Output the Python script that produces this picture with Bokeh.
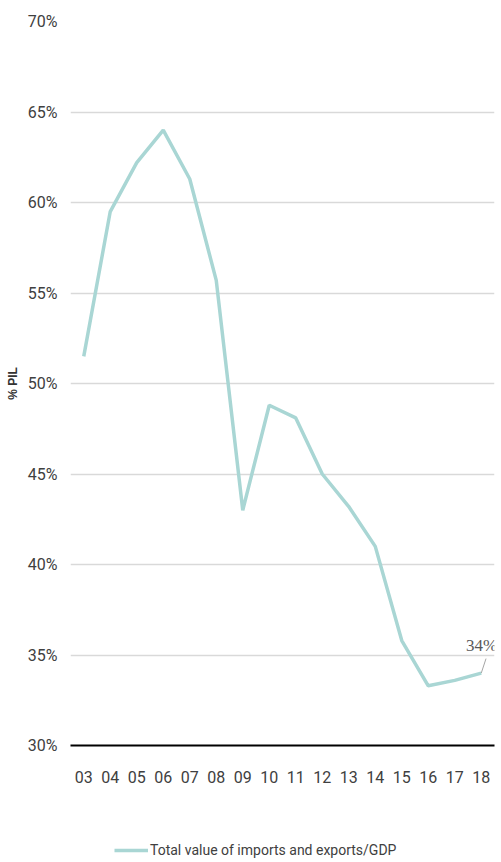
from bokeh.plotting import figure
from bokeh.layouts import column
from bokeh.models import (FactorRange, Range1d, FixedTicker, PrintfTickFormatter,
                          Legend, LegendItem, LabelSet, ColumnDataSource)
from bokeh.transform import dodge
from bokeh.embed import file_html
from bokeh.resources import INLINE

years = ["03", "04", "05", "06", "07", "08", "09", "10", "11", "12",
         "13", "14", "15", "16", "17", "18"]
trade_gdp = [51.5, 59.5, 62.2, 64.0, 61.3, 55.7, 43.0, 48.8, 48.1, 45.0,
             43.2, 41.0, 35.8, 33.3, 33.6, 34.0]
y_ticks = [30, 35, 40, 45, 50, 55, 60, 65, 70]
series_name = "Total value of imports and exports/GDP"
end_label = "34%"

FONT = "Roboto"
LINE_COLOR = "#a9d6d4"
TXT = "#404040"

p = figure(width=501, height=827, x_range=FactorRange(*years, range_padding=0),
           y_range=Range1d(30, 70), output_backend="svg", toolbar_location=None,
           min_border_left=70, min_border_right=7, min_border_top=21,
           min_border_bottom=82)
p.outline_line_color = None
p.background_fill_color = "white"
p.border_fill_color = "white"

src = ColumnDataSource(dict(x=years, y=trade_gdp))
r = p.line("x", "y", source=src, line_color=LINE_COLOR, line_width=3.5)

# y axis
p.yaxis.ticker = FixedTicker(ticks=y_ticks)
p.yaxis.formatter = PrintfTickFormatter(format="%d%%")
p.yaxis.axis_line_color = None
p.yaxis.major_tick_line_color = None
p.yaxis.minor_tick_line_color = None
p.yaxis.major_tick_out = 0
p.yaxis.major_tick_in = 0
p.yaxis.major_label_standoff = 13
p.yaxis.major_label_text_font = FONT
p.yaxis.major_label_text_font_size = "16px"
p.yaxis.major_label_text_color = TXT
p.yaxis.axis_label = "% PIL"
p.yaxis.axis_label_text_font = "Liberation Sans"
p.yaxis.axis_label_text_font_style = "bold"
p.yaxis.axis_label_text_font_size = "12px"
p.yaxis.axis_label_text_color = "#333333"
p.yaxis.axis_label_standoff = 5

# x axis
p.xaxis.axis_line_color = "black"
p.xaxis.axis_line_width = 2
p.xaxis.major_tick_line_color = None
p.xaxis.minor_tick_line_color = None
p.xaxis.major_tick_out = 0
p.xaxis.major_tick_in = 0
p.xaxis.major_label_standoff = 25
p.xaxis.major_label_text_font = FONT
p.xaxis.major_label_text_font_size = "16px"
p.xaxis.major_label_text_color = TXT

# grid
p.xgrid.grid_line_color = None
p.ygrid.grid_line_color = "#d9d9d9"
p.ygrid.grid_line_width = 1.3

# end label with leader
lead = ColumnDataSource(dict(x=[years[-1]], y0=[trade_gdp[-1]], y1=[trade_gdp[-1] + 0.8],
                             t=[end_label]))
p.segment(x0="x", y0="y0", x1=dodge("x", 0.18, range=p.x_range), y1="y1",
          source=lead, line_color="#a6a6a6", line_width=1)
p.add_layout(LabelSet(x="x", y="y0", text="t", source=lead, x_offset=16, y_offset=22,
                      text_font=FONT, text_font_size="17px", text_color="#595959",
                      text_align="right", text_baseline="alphabetic"))

# legend strip (same series, its line kept out of view; only the legend shows)
pl = figure(width=501, height=35, output_backend="svg", toolbar_location=None,
            x_range=p.x_range, y_range=Range1d(100, 110),
            x_axis_location=None, y_axis_location=None,
            min_border_left=0, min_border_right=0, min_border_top=0, min_border_bottom=0)
pl.outline_line_color = None
pl.xgrid.grid_line_color = None
pl.ygrid.grid_line_color = None
pl.border_fill_color = "white"
lr = pl.line("x", "y", source=src, line_color=LINE_COLOR, line_width=3.5)
legend = Legend(items=[LegendItem(label=series_name, renderers=[lr])],
                location=(44, 2), orientation="horizontal",
                label_text_font=FONT, label_text_font_size="14px",
                label_text_color=TXT, glyph_width=34, glyph_height=20, label_standoff=2,
                border_line_color=None, background_fill_alpha=0, margin=0, padding=4)
pl.add_layout(legend, "center")

layout = column(p, pl, spacing=0)
open("out.html", "w").write(file_html(layout, INLINE))
